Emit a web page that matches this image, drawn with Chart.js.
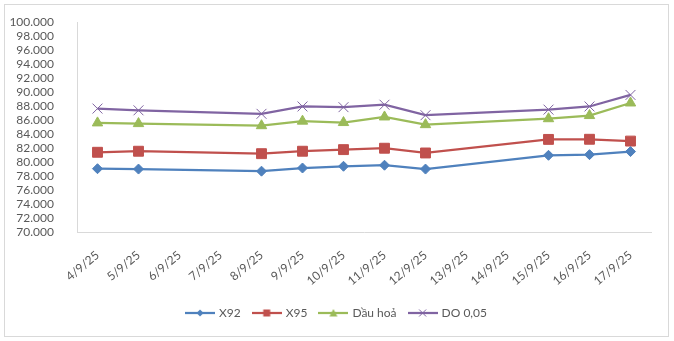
<!DOCTYPE html>
<html>
<head>
<meta charset="utf-8">
<script src="https://cdn.jsdelivr.net/npm/chart.js@4"></script>
<style>
  html, body { margin: 0; padding: 0; background: #fff; }
  #wrap { width: 674px; height: 341px; }
</style>
</head>
<body>
<div id="wrap"><canvas id="chart" width="674" height="341"></canvas></div>
<script>
// Daily prices, null on days without a quote
const days = ["4/9/25", "5/9/25", "6/9/25", "7/9/25", "8/9/25", "9/9/25", "10/9/25",
  "11/9/25", "12/9/25", "13/9/25", "14/9/25", "15/9/25", "16/9/25", "17/9/25"]
const x92 = [79050, 79000, null, null, 78700, 79150, 79400, 79550, 79000, null, null, 80970, 81060, 81500]
const x95 = [81400, 81550, null, null, 81200, 81550, 81780, 81980, 81300, null, null, 83240, 83260, 83000]
const dauHoa = [85600, 85500, null, null, 85200, 85850, 85650, 86450, 85350, null, null, 86200, 86650, 88450]
const do005 = [87650, 87400, null, null, 86900, 87950, 87850, 88200, 86700, null, null, 87500, 87950, 89600]

const yMin = 70000
const yMax = 100000
const yStep = 2000

const textColor = "#595959"
const lineGray = "#d9d9d9"
const font = { family: "Lato, 'Open Sans', sans-serif", size: 12 }

function fmt(v) {
  const k = Math.floor(v / 1000)
  const r = String(Math.round(v % 1000)).padStart(3, "0")
  return k + "." + r
}

// small line + marker swatch for the legend
function legendIcon(color, style) {
  const c = document.createElement("canvas")
  c.width = 30
  c.height = 12
  const g = c.getContext("2d")
  g.strokeStyle = color
  g.fillStyle = color
  g.lineWidth = 2.25
  g.beginPath()
  g.moveTo(0, 6)
  g.lineTo(30, 6)
  g.stroke()
  g.beginPath()
  const cx = 15
  if (style === "diamond") {
    g.moveTo(cx, 2.5); g.lineTo(cx + 3.5, 6); g.lineTo(cx, 9.5); g.lineTo(cx - 3.5, 6); g.closePath(); g.fill()
  } else if (style === "square") {
    g.rect(cx - 3.5, 2.5, 7, 7); g.fill()
  } else if (style === "triangle") {
    g.moveTo(cx, 2); g.lineTo(cx + 4, 9.5); g.lineTo(cx - 4, 9.5); g.closePath(); g.fill()
  } else {
    g.lineWidth = 1
    g.moveTo(cx - 3.5, 2.5); g.lineTo(cx + 3.5, 9.5); g.moveTo(cx + 3.5, 2.5); g.lineTo(cx - 3.5, 9.5); g.stroke()
  }
  return c
}

const icons = [
  legendIcon("#4f81bd", "diamond"),
  legendIcon("#c0504d", "square"),
  legendIcon("#9bbb59", "triangle"),
  legendIcon("#8064a2", "cross"),
]

// white background + thin frame round the whole chart; legend centred on the canvas
const chartFrame = {
  id: "chartFrame",
  afterLayout(chart) {
    const lg = chart.legend
    const shift = chart.width / 2 - (lg.left + lg.right) / 2
    lg.left += shift
    lg.right += shift
  },
  beforeDraw(chart) {
    const ctx = chart.ctx
    ctx.save()
    ctx.fillStyle = "#fff"
    ctx.fillRect(0, 0, chart.width, chart.height)
    ctx.strokeStyle = lineGray
    ctx.lineWidth = 1
    ctx.strokeRect(4.5, 4.5, 664, 332)
    ctx.restore()
  },
}

const ctx = document.getElementById("chart").getContext("2d")

new Chart(ctx, {
  type: "line",
  data: {
    labels: days,
    datasets: [
      {
        label: "X92",
        data: x92,
        borderColor: "#4f81bd",
        backgroundColor: "#4f81bd",
        pointStyle: "rectRot",
        pointRadius: 5,
      },
      {
        label: "X95",
        data: x95,
        borderColor: "#c0504d",
        backgroundColor: "#c0504d",
        pointStyle: "rect",
        pointRadius: 7,
      },
      {
        label: "Dầu hoả",
        data: dauHoa,
        borderColor: "#9bbb59",
        backgroundColor: "#9bbb59",
        pointStyle: "triangle",
        pointRadius: 6,
      },
      {
        label: "DO 0,05",
        data: do005,
        borderColor: "#8064a2",
        backgroundColor: "#8064a2",
        pointStyle: "crossRot",
        pointRadius: 7,
        pointBorderWidth: 1,
      },
    ],
  },
  options: {
    responsive: false,
    animation: false,
    spanGaps: true,
    layout: {
      padding: { left: 10, top: 20, right: 23, bottom: 12 },
    },
    elements: {
      line: { borderWidth: 2.25, tension: 0 },
      point: { borderWidth: 1, hoverRadius: 6 },
    },
    plugins: {
      legend: {
        position: "bottom",
        labels: {
          usePointStyle: true,
          pointStyleWidth: 26,
          padding: 13,
          color: textColor,
          font: font,
          generateLabels(chart) {
            const items = Chart.defaults.plugins.legend.labels.generateLabels(chart)
            items.forEach((it, i) => { it.pointStyle = icons[i] })
            return items
          },
        },
      },
      tooltip: { enabled: false },
    },
    scales: {
      y: {
        min: yMin,
        max: yMax,
        ticks: {
          stepSize: yStep,
          autoSkip: false,
          padding: 15,
          color: textColor,
          font: font,
          callback: (v) => fmt(v),
        },
        grid: { display: false },
        border: { display: true, color: lineGray, width: 1 },
        afterFit(scale) { scale.width = 67 },
      },
      x: {
        offset: true,
        ticks: {
          minRotation: 40,
          maxRotation: 40,
          autoSkip: false,
          padding: 8,
          color: textColor,
          font: font,
        },
        grid: { display: false },
        border: { display: true, color: lineGray, width: 1 },
        afterFit(scale) { scale.height = 62 },
      },
    },
  },
  plugins: [chartFrame],
})
</script>
</body>
</html>
